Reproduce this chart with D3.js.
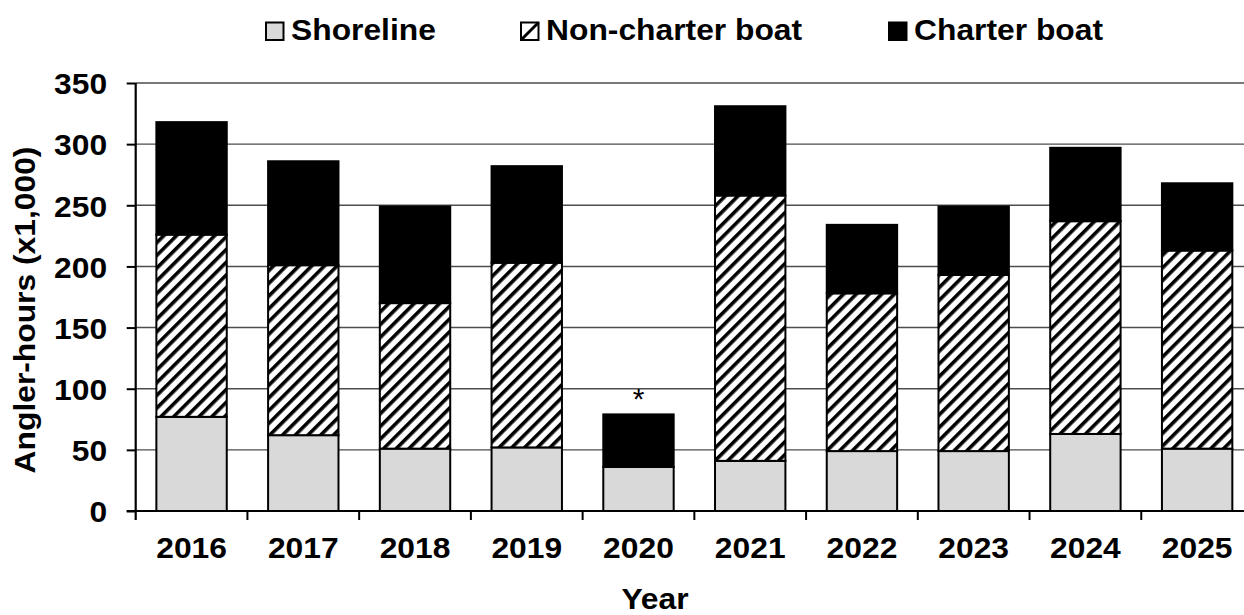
<!DOCTYPE html>
<html>
<head>
<meta charset="utf-8">
<script src="https://cdn.jsdelivr.net/npm/d3@7"></script>
<style>
  html, body { margin: 0; padding: 0; background: #fff; }
  svg { display: block; font-family: "Liberation Sans", Arial, sans-serif; }
</style>
</head>
<body>
<div id="chart"></div>
<script>
// values, angler-hours x1,000
var years = ["2016", "2017", "2018", "2019", "2020", "2021", "2022", "2023", "2024", "2025"];
var shoreline = [77, 62, 51, 52, 36, 41, 49, 49, 63, 51];
var nonCharter = [149, 139, 119, 151, 0, 217, 129, 144, 174, 162];
var charter = [92, 85, 79, 79, 43, 73, 56, 56, 60, 55];
var yTicks = [0, 50, 100, 150, 200, 250, 300, 350];
var flagged = ["2020"];

var seriesNames = ["Shoreline", "Non-charter boat", "Charter boat"];

var width = 1244, height = 615;
var margin = {top: 83, right: -9, bottom: 104, left: 135.7};
var plotW = width - margin.left - margin.right;
var plotH = height - margin.top - margin.bottom;
var stretch = 1.06; // the source text is a little wider than plain Arial

var svg = d3.select("#chart").append("svg")
    .attr("width", width)
    .attr("height", height);

var defs = svg.append("defs");
var hatch = defs.append("pattern")
    .attr("id", "hatch")
    .attr("patternUnits", "userSpaceOnUse")
    .attr("width", 9)
    .attr("height", 9)
    .attr("patternTransform", "rotate(45)");
hatch.append("rect").attr("width", 9).attr("height", 9).attr("fill", "#fff");
hatch.append("rect").attr("x", 0).attr("width", 3.6).attr("height", 9).attr("fill", "#000");

var table = years.map(function(y, i) {
    return {year: y, shore: shoreline[i], non: nonCharter[i], charter: charter[i]};
});
var stack = d3.stack().keys(["shore", "non", "charter"])(table);

var x = d3.scaleBand()
    .domain(years)
    .range([0, plotW])
    .paddingInner(0.37)
    .paddingOuter(0.185);

var y = d3.scaleLinear()
    .domain([0, 350])
    .range([plotH, 0]);

var g = svg.append("g")
    .attr("transform", `translate(${margin.left}, ${margin.top})`);

// gridlines
g.append("g").selectAll("line")
    .data(yTicks.filter(d => d > 0))
    .enter().append("line")
    .attr("x1", 0)
    .attr("x2", plotW)
    .attr("y1", d => y(d))
    .attr("y2", d => y(d))
    .style("stroke", "#4d4d4d")
    .style("stroke-width", 1.4);

var fills = {shore: "#d9d9d9", non: "url(#hatch)", charter: "#000"};

g.append("g").selectAll("g")
    .data(stack)
    .enter().append("g")
    .each(function(layer) {
        d3.select(this).selectAll("rect")
            .data(layer.filter(d => d[1] - d[0] > 0))
            .enter().append("rect")
            .attr("x", d => x(d.data.year))
            .attr("y", d => y(d[1]))
            .attr("width", x.bandwidth())
            .attr("height", d => y(d[0]) - y(d[1]))
            .style("fill", fills[layer.key])
            .style("stroke", "#000")
            .style("stroke-width", 2);
    });

// asterisk on flagged years
g.append("g").selectAll("text")
    .data(table.filter(d => flagged.indexOf(d.year) >= 0))
    .enter().append("text")
    .text("*")
    .attr("x", d => x(d.year) + x.bandwidth() / 2)
    .attr("y", d => y(d.shore + d.non + d.charter) - 5)
    .style("text-anchor", "middle")
    .style("font-size", "30px")
    .style("fill", "#000");

// y axis
var yAxis = g.append("g")
    .call(d3.axisLeft(y).tickValues(yTicks).tickSize(9).tickPadding(18));
yAxis.select(".domain")
    .attr("d", `M0,0V${plotH + 9}`)
    .style("stroke-width", 2.2);
yAxis.selectAll(".tick line").style("stroke-width", 2);
yAxis.selectAll("text")
    .style("font-size", "30px")
    .style("font-weight", "bold")
    .attr("dy", "0.36em")
    .attr("transform", `scale(${stretch}, 1)`);

// x axis
var xAxis = g.append("g")
    .attr("transform", `translate(0, ${plotH})`)
    .call(d3.axisBottom(x).tickSize(0).tickPadding(26));
xAxis.select(".domain")
    .attr("d", `M-9,0H${plotW}`)
    .style("stroke-width", 2.2);
xAxis.selectAll("text")
    .style("font-size", "30px")
    .style("font-weight", "bold")
    .attr("transform", `scale(${stretch}, 1)`);

// category boundary ticks
g.append("g").selectAll("line")
    .data(years.slice(1))
    .enter().append("line")
    .attr("x1", d => x(d) - x.step() * x.paddingInner() / 2)
    .attr("x2", d => x(d) - x.step() * x.paddingInner() / 2)
    .attr("y1", plotH)
    .attr("y2", plotH + 9)
    .style("stroke", "#000")
    .style("stroke-width", 2);

// axis titles
svg.append("text")
    .text("Angler-hours (x1,000)")
    .attr("transform", `translate(35, 310) rotate(-90) scale(${stretch}, 1)`)
    .style("text-anchor", "middle")
    .style("font-size", "30px")
    .style("font-weight", "bold");

svg.append("text")
    .text("Year")
    .attr("transform", `translate(655, 609) scale(${stretch}, 1)`)
    .style("text-anchor", "middle")
    .style("font-size", "30px")
    .style("font-weight", "bold");

// legend
var legendX = [266, 521, 889];
var legend = svg.append("g");
seriesNames.forEach(function(name, i) {
    var lg = legend.append("g").attr("transform", `translate(${legendX[i]}, 22.5)`);
    lg.append("rect")
        .attr("width", 17.5)
        .attr("height", 17.5)
        .style("fill", i === 0 ? "#d9d9d9" : (i === 1 ? "#fff" : "#000"))
        .style("stroke", "#000")
        .style("stroke-width", 2);
    if (i === 1) {
        lg.append("line")
            .attr("x1", 0).attr("y1", 17.5)
            .attr("x2", 17.5).attr("y2", 0)
            .style("stroke", "#000")
            .style("stroke-width", 3);
    }
    lg.append("text")
        .text(name)
        .attr("transform", `translate(25, 17.5) scale(${stretch}, 1)`)
        .style("font-size", "30px")
        .style("font-weight", "bold");
});
</script>
</body>
</html>
